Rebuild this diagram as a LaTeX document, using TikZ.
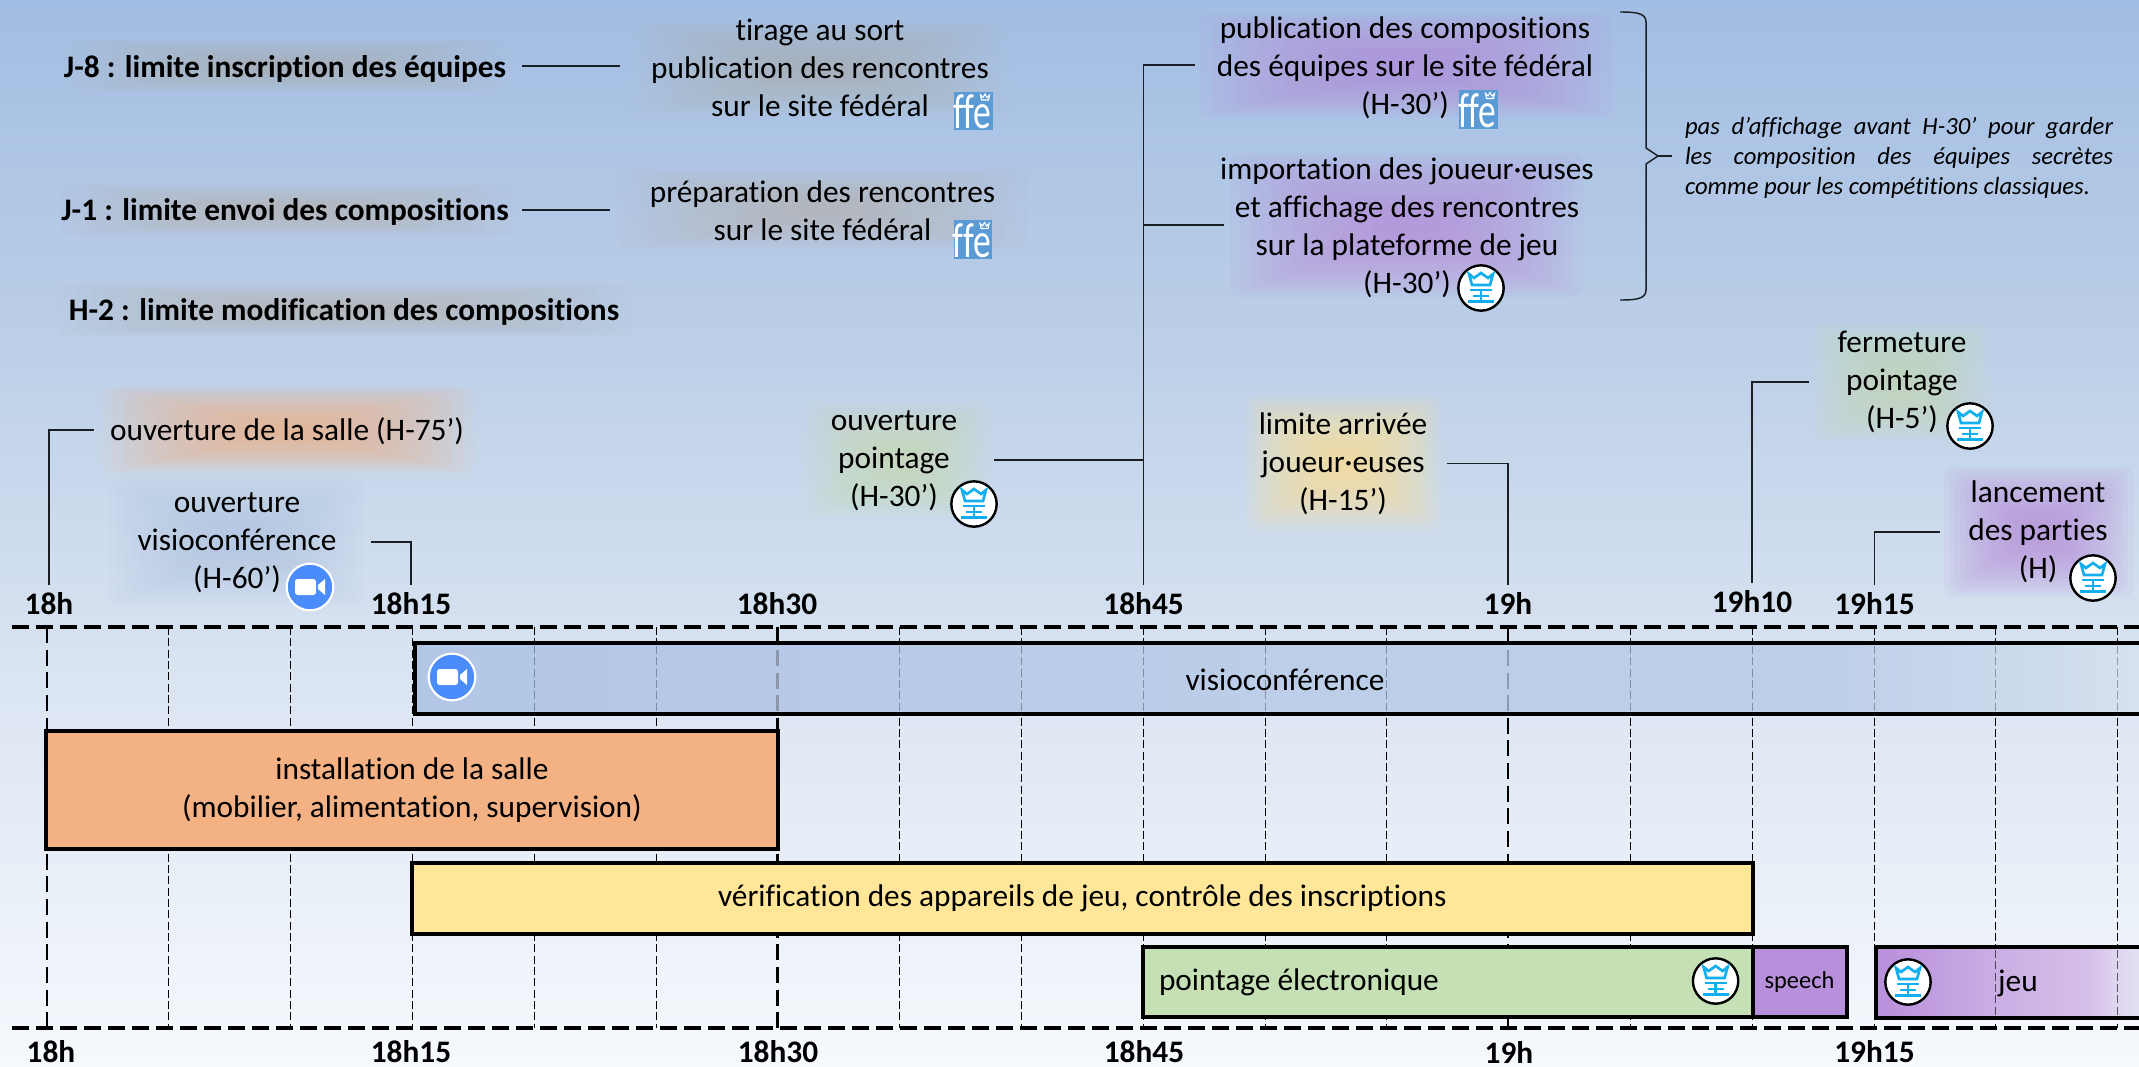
\documentclass[tikz,border=0pt]{standalone}
\usepackage{fontspec}
\setmainfont{Carlito}[Ligatures=NoCommon]
\definecolor{bgA}{HTML}{F6F9FD}
\definecolor{bgB}{HTML}{DEE7F3}
\definecolor{bgC}{HTML}{BCCFE7}
\definecolor{bgD}{HTML}{A2BDE3}
\definecolor{orangeF}{HTML}{F4B183}
\definecolor{yellowF}{HTML}{FFE699}
\definecolor{greenF}{HTML}{C5E0B4}
\definecolor{purpleF}{HTML}{B88FDB}
\definecolor{blueF}{HTML}{B2C6E6}
\definecolor{blueG}{HTML}{BDCEE8}
\definecolor{blueH}{HTML}{D8E3F0}
\definecolor{jeuB}{HTML}{CBAEE4}
\definecolor{jeuC}{HTML}{D5C0E9}
\definecolor{jeuD}{HTML}{DFD6F0}
\definecolor{jeuE}{HTML}{E3E0F2}
\definecolor{tanG}{HTML}{B5AFA6}
\definecolor{blueGlow}{HTML}{A9BFE3}
\definecolor{zoomblue}{HTML}{4A8CFB}
\definecolor{chesscyan}{HTML}{12AEEF}
\definecolor{ffeblue}{HTML}{5B9BD5}
\definecolor{connc}{HTML}{1A1F26}
\pgfdeclareverticalshading{bgshade}{100bp}{color(0bp)=(bgA); color(25bp)=(bgA); color(41.3bp)=(bgB); color(59bp)=(bgC); color(75bp)=(bgD); color(100bp)=(bgD)}
\pgfdeclarehorizontalshading{visioshade}{100bp}{color(0bp)=(blueF); color(25bp)=(blueF); color(50bp)=(blueG); color(65bp)=(blueG); color(75bp)=(blueH); color(100bp)=(blueH)}
\pgfdeclarehorizontalshading{jeushade}{100bp}{color(0bp)=(purpleF); color(25bp)=(purpleF); color(45.6bp)=(jeuB); color(61.4bp)=(jeuC); color(66bp)=(jeuD); color(70bp)=(jeuE); color(100bp)=(jeuE)}
\tikzset{
  txt/.style={inner sep=0pt,outer sep=0pt,align=center,text=black,font=\fontsize{23.5}{28.5}\selectfont},
  boldtxt/.style={txt,font=\fontsize{23.5}{28.5}\selectfont\bfseries},
  axislabel/.style={boldtxt,minimum height=28.5pt},
  conn/.style={draw=connc,line width=1.1pt},
  gridthin/.style={draw=black,line width=0.7pt,dash pattern=on 6pt off 2.5pt},
  gridthick/.style={draw=black,line width=2.2pt,dash pattern=on 12pt off 5pt},
  axisline/.style={draw=black,line width=3pt,dash pattern=on 13pt off 5pt},
  barbox/.style={draw=black,line width=3pt,inner sep=0pt,outer sep=0pt,align=center,font=\fontsize{23.5}{28.5}\selectfont},
  glowlayer/.style={rounded corners=7pt,opacity=0.049},
}
\newcommand{\glowbox}[6]{%
  \foreach \k in {0,...,15}{%
    \pgfmathsetmacro\insx{\k/16*(#4-#2)/2*0.92}%
    \pgfmathsetmacro\insy{\k/16*(#5-#3)/2*0.92}%
    \fill[glowlayer,#6] ({#2+\insx},{#3+\insy}) rectangle ({#4-\insx},{#5-\insy});
  }%
  \pgfmathsetmacro\gw{(#4-#2)*0.75}%
  \pgfmathsetmacro\gh{(#5-#3)*0.75}%
  \node[inner sep=0pt,outer sep=0pt,minimum width=\gw pt,minimum height=\gh pt] (#1) at ({(#2+#4)/2},{(#3+#5)/2}) {};
}
\newcommand{\barnode}[7]{%
  \pgfmathsetmacro\gw{(#4-#2)*0.75}%
  \pgfmathsetmacro\gh{(#5-#3)*0.75}%
  \node[barbox,#6,minimum width=\gw pt,minimum height=\gh pt] (#1) at ({(#2+#4)/2},{(#3+#5)/2}) {#7};
}
\newcommand{\chessicon}[3]{%
  \node[circle,draw=black,fill=white,line width=1.8pt,minimum size=34pt,inner sep=0pt] (#1) at (#2,#3) {};
  \begin{scope}[shift={(#2,#3)}]
    \draw[chesscyan,line width=2pt,line join=miter] (-12,-14) -- (-7,-10) -- (0,-15) -- (7,-10) -- (12,-14) -- (9,-3) -- (-9,-3) -- cycle;
    \draw[chesscyan,line width=2pt] (-11,2) -- (11,2);
    \draw[chesscyan,line width=2pt] (0,2) -- (0,13);
    \draw[chesscyan,line width=1.6pt] (-8,8) -- (8,8);
    \draw[chesscyan,line width=2pt] (-13,13.5) -- (13,13.5);
  \end{scope}
}
\newcommand{\zoomicon}[3]{%
  \node[circle,draw=white,fill=zoomblue,line width=1.6pt,minimum size=35pt,inner sep=0pt] (#1) at (#2,#3) {};
  \begin{scope}[shift={(#2,#3)}]
    \fill[white,rounded corners=2pt] (-15,-8) rectangle (6,8);
    \fill[white] (8,-2) -- (15,-8) -- (15,8) -- (8,2) -- cycle;
  \end{scope}
}
\newcommand{\ffeicon}[3]{%
  \node[fill=ffeblue,minimum size=29pt,inner sep=0pt,outer sep=0pt] (#1) at (#2,#3) {};
  \node[inner sep=0pt,text=white,font=\fontsize{37}{37}\selectfont] (#1t) at ({#2-1},{#3+1}) {\scalebox{.72}[1]{ffe}};
  \begin{scope}[shift={(#2,#3)}]
    \draw[white,line width=.8pt] (7,-16) -- (8,-11) -- (15,-11) -- (16,-16) -- (13.5,-13.5) -- (11.5,-17) -- (9.5,-13.5) -- cycle;
  \end{scope}
}
\begin{document}
\begin{tikzpicture}[x=0.75pt,y=-0.75pt]
\useasboundingbox (0,0) rectangle (2139,1067);
\shade[shading=bgshade] (0,0) rectangle (2139,1067);

% glows
\glowbox{gJ8}{61}{38}{512}{94}{tanG}
\glowbox{gTir}{628}{18}{1012}{117}{tanG}
\glowbox{gJ1}{61}{184}{512}{236}{tanG}
\glowbox{gPrep}{618}{168}{1027}{250}{tanG}
\glowbox{gH2}{58}{283}{631}{337}{tanG}
\glowbox{gPub}{1200}{13}{1613}{117}{purpleF,opacity=.084}
\glowbox{gImp}{1230}{153}{1583}{297}{purpleF,opacity=.084}
\glowbox{gSalle}{102}{387}{474}{473}{orangeF,opacity=.076}
\glowbox{gVisio}{109}{477}{365}{607}{blueGlow}
\glowbox{gOP}{805}{400}{990}{520}{greenF,opacity=.076}
\glowbox{gLim}{1246}{397}{1441}{530}{yellowF,opacity=.09}
\glowbox{gFerm}{1813}{322}{1990}{442}{greenF,opacity=.076}
\glowbox{gLanc}{1944}{467}{2133}{597}{purpleF,opacity=.084}

% axis labels
\node[axislabel] (l18h) at (49,604) {18h};
\node[axislabel] (l1815) at (411,604) {18h15};
\node[axislabel] (l1830) at (777,604) {18h30};
\node[axislabel] (l1845) at (1143.6,604) {18h45};
\node[axislabel] (l19h) at (1508,604) {19h};
\node[axislabel] (l1910) at (1752,602) {19h10};
\node[axislabel] (l1915) at (1874.5,604) {19h15};
\node[boldtxt] (b18h) at (51,1052) {18h};
\node[boldtxt] (b1815) at (411,1052) {18h15};
\node[boldtxt] (b1830) at (778,1052) {18h30};
\node[boldtxt] (b1845) at (1144,1052) {18h45};
\node[boldtxt] (b19h) at (1509,1052) {19h};
\node[boldtxt] (b1915) at (1874.5,1052) {19h15};

% grid
\foreach \i in {1,2,3,4,5,7,8,9,10,11,13,14,15,16,17}{
  \draw[gridthin] ({47+121.8*\i},627) -- ({47+121.8*\i},1028);
}
\foreach \i in {0,6,12}{
  \draw[gridthick] ({47+121.75*\i},627) -- ({47+121.75*\i},1028);
}
\draw[axisline] (12,627) -- (2139,627);
\draw[axisline] (12,1028) -- (2139,1028);

% bars
\barnode{bVisio}{415}{643}{2170}{714}{shade,shading=visioshade}{}
\foreach \i in {4,5,7,8,9,10,11,13,14,15,16,17}{
  \draw[draw=black,opacity=.3,line width=0.7pt,dash pattern=on 6pt off 2.5pt] ({47+121.8*\i},646) -- ({47+121.8*\i},711);
}
\foreach \i in {6,12}{
  \draw[draw=black,opacity=.25,line width=2.2pt,dash pattern=on 12pt off 5pt] ({47+121.75*\i},650) -- ({47+121.75*\i},711);
}
\barnode{bInst}{46}{731}{778}{849}{fill=orangeF}{installation de la salle\\(mobilier, alimentation, supervision)}
\barnode{bVerif}{412}{863}{1752.5}{934}{fill=yellowF}{vérification des appareils de jeu, contrôle des inscriptions}
\barnode{bPoint}{1143}{947}{1752.5}{1017}{fill=greenF}{}
\barnode{bSpeech}{1752.5}{947}{1846.5}{1017}{fill=purpleF,font=\fontsize{18.3}{20}\selectfont}{speech}
\barnode{bJeu}{1876}{947}{2170}{1018}{shade,shading=jeushade}{}
\foreach \i in {16,17}{
  \draw[draw=black,opacity=.6,line width=0.7pt,dash pattern=on 6pt off 2.5pt] ({47+121.8*\i},950) -- ({47+121.8*\i},1015);
}
\node[txt] (tVisioBar) at (1285,680) {visioconférence};
\node[txt,anchor=west] (tPoint) at (1159,982) {pointage électronique};
\node[txt] (tJeu) at (2018,983) {jeu};

% texts
\node[boldtxt] (tJ8) at (285,69) {J-8 : limite inscription des équipes};
\node[boldtxt] (tJ1) at (285,212) {J-1 : limite envoi des compositions};
\node[boldtxt] (tH2) at (344,312) {H-2 : limite modification des compositions};
\node[txt] (tTir) at (820,68) {tirage au sort\\publication des rencontres\\sur le site fédéral};
\node[txt] (tPrep) at (822.5,211) {préparation des rencontres\\sur le site fédéral};
\node[txt] (tPub) at (1405,68) {publication des compositions\\des équipes sur le site fédéral\\(H-30’)};
\node[txt] (tImp) at (1407,228) {importation des joueur·euses\\et affichage des rencontres\\sur la plateforme de jeu\\(H-30’)};
\node[txt,align=left,font=\fontsize{18.5}{22.5}\selectfont\itshape] (tNote) at (1899,158) {\makebox[321pt][s]{pas d’affichage avant H-30’ pour garder}\\\makebox[321pt][s]{les composition des équipes secrètes}\\comme pour les compétitions classiques.};
\node[txt] (tSalle) at (287,431) {ouverture de la salle (H-75’)};
\node[txt] (tVisio) at (237,543) {ouverture\\visioconférence\\(H-60’)};
\node[txt] (tOP) at (894,461) {ouverture\\pointage\\(H-30’)};
\node[txt] (tLim) at (1343,464) {limite arrivée\\joueur·euses\\(H-15’)};
\node[txt] (tFerm) at (1902,382) {fermeture\\pointage\\(H-5’)};
\node[txt] (tLanc) at (2038,532) {lancement\\des parties\\(H)};

% icons
\ffeicon{fA}{973.5}{111}
\ffeicon{fB}{973}{239.5}
\ffeicon{fC}{1478.5}{109.5}
\chessicon{cImp}{1481}{288}
\chessicon{cOP}{974}{504}
\chessicon{cFerm}{1970}{426}
\chessicon{cLanc}{2093}{578}
\chessicon{cPoint}{1715.6}{981}
\chessicon{cJeu}{1908}{982}
\zoomicon{zVisio}{310}{587}
\zoomicon{zBar}{452}{677}

% connectors
\draw[conn,shorten <=7.5pt,shorten >=6pt] (gJ8.east) -- (gJ8.east -| gTir.west);
\draw[conn,shorten <=7.5pt,shorten >=6pt] (gJ1.east) -- (gJ1.east -| gPrep.west);
\draw[conn,shorten <=6pt] (gSalle.west) -| (l18h.north);
\draw[conn,shorten <=4.5pt] (gVisio.east) -| (l1815.north);
\draw[conn,shorten <=3pt] (gOP.east) -- (gOP.east -| l1845.north);
\draw[conn,shorten >=3.5pt] (l1845.north) |- (gPub.west);
\draw[conn,shorten <=4.5pt] (gImp.west) -- (gImp.west -| l1845.north);
\draw[conn,shorten <=4.5pt] (gLim.east) -| (l19h.north);
\draw[conn,shorten <=3pt] (gFerm.west) -| (l1910.north);
\draw[conn,shorten <=3pt] (gLanc.west) -| (l1915.north);

% brace
\coordinate (brTop) at (1620,12);
\coordinate (brBot) at (1620,300);
\coordinate (brTip) at (1672,156);
\draw[conn] (brTop) .. controls (1636,12) and (1646,13) .. (1646,22) -- (1646,148) -- (1658,156) -- (1646,164) -- (1646,290) .. controls (1646,299) and (1636,300) .. (brBot);
\draw[conn] (1658,156) -- (brTip);
\end{tikzpicture}
\end{document}
